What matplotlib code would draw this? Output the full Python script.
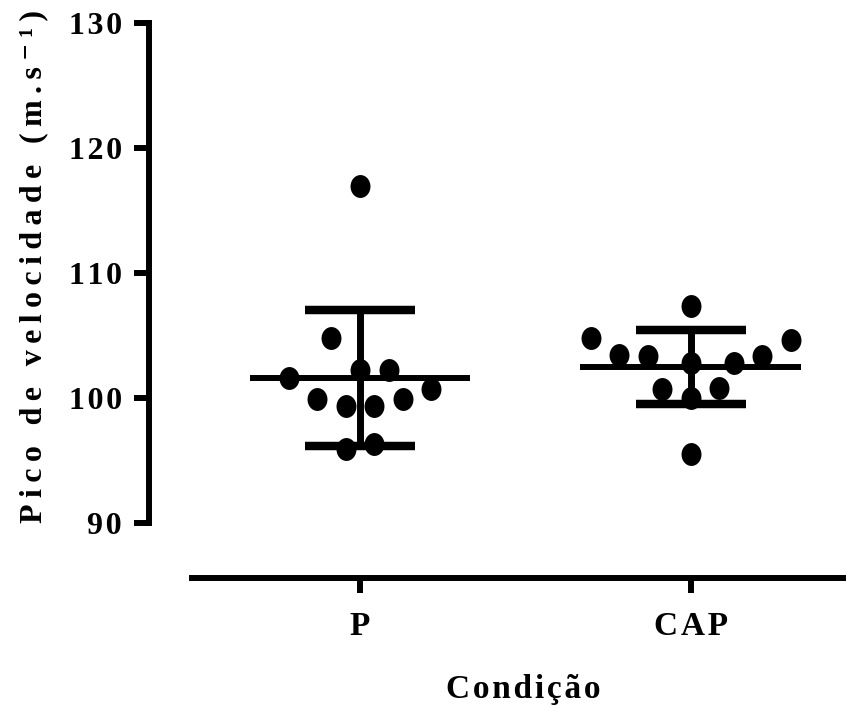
import numpy as np
import matplotlib
matplotlib.use("Agg")
import matplotlib.pyplot as plt
from matplotlib.path import Path
from matplotlib.transforms import Affine2D

# ---------------- data ----------------
categories = ["P", "CAP"]
p_values = [116.9, 104.8, 101.6, 102.2, 102.2, 100.7, 99.9, 99.9, 99.3, 99.3, 95.9, 96.3]
cap_values = [107.3, 104.8, 104.6, 103.4, 103.3, 103.3, 102.8, 102.8, 100.7, 100.8, 100.0, 95.5]
y_ticks = [90, 100, 110, 120, 130]
y_label = "Pico de velocidade (m.s⁻¹)"
x_label = "Condição"

# scatter layout (horizontal spreading, in marker-steps)
p_steps = [0, -2, -5, 0, 2, 5, -3, 3, -1, 1, -1, 1]
cap_steps = [0, -7, 7, -5, -3, 5, 0, 3, -2, 2, 0, 0]
STEP = 0.0432

HS = "\u200a"   # hair space
TS = "\u2009"   # thin space

def spaced(s, sep):
    words = s.split(" ")
    return (sep + " " + sep).join(sep.join(w) for w in words)

FAM = ["Liberation Serif", "DejaVu Serif"]
plt.rcParams["font.family"] = FAM
plt.rcParams["font.weight"] = "bold"

W, H = 846, 708
fig = plt.figure(figsize=(W / 100, H / 100), dpi=100)

left_px, bottom_px, top_px = 149, 578, 22.7
ax = fig.add_axes([left_px / W, (H - bottom_px) / H, 1 - left_px / W,
                   (bottom_px - top_px) / H])

px_per_x = 330.7
px_per_y = 12.5
x0_px = 360.0
ax.set_xlim((left_px - x0_px) / px_per_x, (W - x0_px) / px_per_x)
ax.set_ylim(90 - (bottom_px - 522.7) / px_per_y, 130)

# ellipse marker
ell = Affine2D().scale(0.87, 1.0).transform_path(Path.unit_circle())

groups = [p_values, cap_values]
steps = [p_steps, cap_steps]
for i, (vals, st) in enumerate(zip(groups, steps)):
    vals = np.asarray(vals)
    xs = i + np.asarray(st) * STEP
    m = vals.mean()
    sd = vals.std(ddof=1)
    ax.hlines(m, i - 0.334, i + 0.334, color="black", lw=4.3, zorder=3,
              capstyle="butt")
    ax.vlines(i, m - sd, m + sd, color="black", lw=5.0, zorder=3)
    ax.hlines([m - sd, m + sd], i - 0.166, i + 0.166, color="black", lw=6.1,
              zorder=3, capstyle="butt")
    ax.plot(xs, vals, linestyle="none", marker=ell, markersize=16.5,
            color="black", markeredgewidth=0, zorder=4, clip_on=False)

# spines
for s in ["top", "right"]:
    ax.spines[s].set_visible(False)
ax.spines["left"].set_bounds(90, 130)
ax.spines["left"].set_linewidth(4.3)
ax.spines["left"].set_capstyle("projecting")
ax.spines["bottom"].set_bounds((192 - x0_px) / px_per_x, (W + 20 - x0_px) / px_per_x)
ax.spines["bottom"].set_linewidth(4.3)

ax.set_yticks(y_ticks)
ax.set_yticklabels([HS.join(str(t)) for t in y_ticks])
ax.set_xticks(range(len(categories)))
ax.set_xticklabels([HS.join(c) for c in categories])

ax.tick_params(axis="y", length=11, width=4.3, pad=8.5, labelsize=23)
ax.tick_params(axis="x", length=11, width=4.3, pad=13, labelsize=24)
for lab in ax.get_xticklabels() + ax.get_yticklabels():
    lab.set_fontweight("bold")

fig.text(34 / W, 1 - 266.5 / H, spaced(y_label, TS), rotation=90,
         ha="center", va="center", fontsize=23, fontweight="bold")
fig.text(523 / W, 1 - 698.3 / H, spaced(x_label, HS), ha="center",
         va="baseline", fontsize=24, fontweight="bold")

fig.savefig("out.png", dpi=100)
